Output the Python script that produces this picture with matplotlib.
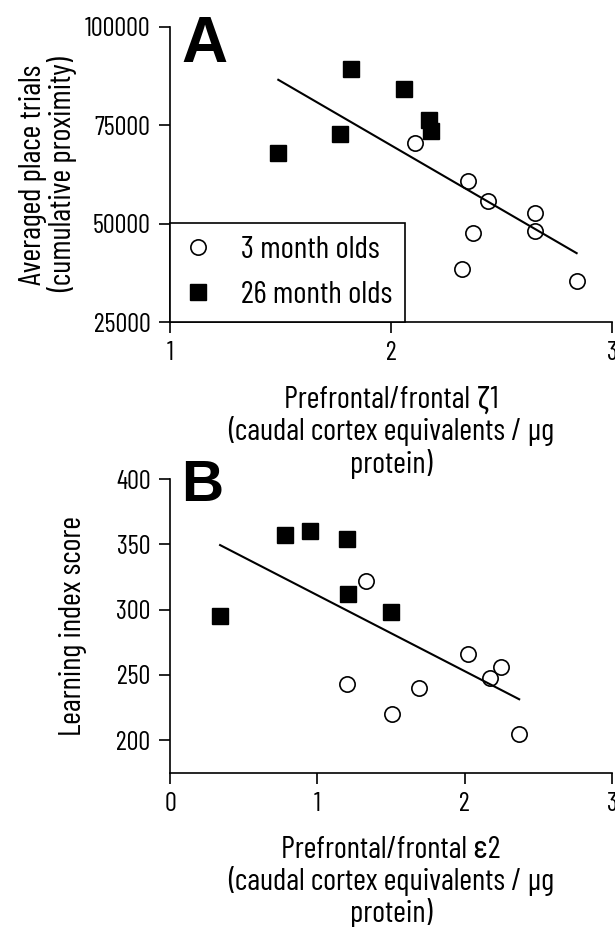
import matplotlib
matplotlib.use("Agg")
import matplotlib.pyplot as plt
import numpy as np

plt.rcParams['font.family'] = ['Barlow Condensed', 'Roboto Condensed', 'DejaVu Sans']

# Panel A: prefrontal/frontal zeta1 vs averaged place trials
a_young_x = [2.11, 2.35, 2.44, 2.37, 2.32, 2.65, 2.65, 2.84]
a_young_y = [70450, 60860, 55700, 47710, 38560, 52650, 48150, 35430]
a_old_x = [1.49, 1.77, 1.82, 2.06, 2.17, 2.18]
a_old_y = [67980, 72740, 89420, 84260, 76370, 73570]

# Panel B: prefrontal/frontal epsilon2 vs learning index score
b_young_x = [1.33, 1.20, 1.51, 1.69, 2.02, 2.17, 2.25, 2.37]
b_young_y = [322, 243, 220, 240, 266, 248, 256, 205]
b_old_x = [0.34, 0.78, 0.95, 1.20, 1.21, 1.50]
b_old_y = [295, 357, 360, 354, 312, 298]

labels = ["3 month olds", "26 month olds"]
xlab_a = "Prefrontal/frontal \u03b61\n(caudal cortex equivalents / \u00b5g\nprotein)"
xlab_b = "Prefrontal/frontal \u03b52\n(caudal cortex equivalents / \u00b5g\nprotein)"

W, H = 615, 927
fig = plt.figure(figsize=(W / 100, H / 100), dpi=100)
renderer = fig.canvas.get_renderer()


def fit_size(text, target_px, size=20):
    # font size that gives the text the pixel width seen in the reference
    t = fig.text(0, 0, text, fontsize=size)
    w = t.get_window_extent(renderer).width
    t.remove()
    return size * target_px / w


tick_fs = fit_size("100000", 66)
label_fs = fit_size("(caudal cortex equivalents / \u00b5g", 327)
leg_fs = fit_size("26 month olds", 151)

axA = fig.add_axes([170 / W, 1 - 322 / H, 442 / W, 295 / H])
axB = fig.add_axes([170 / W, 1 - 773 / H, 442 / W, 294 / H])


def draw(ax, yx, yy, ox, oy):
    h1, = ax.plot(yx, yy, 'o', ms=11, mfc='white', mec='black', mew=1.2,
                  label=labels[0], clip_on=False)
    h2, = ax.plot(ox, oy, 's', ms=11.5, mfc='black', mec='black',
                  label=labels[1], clip_on=False)
    # regression line through all animals
    allx = np.array(yx + ox)
    ally = np.array(yy + oy)
    k, b = np.polyfit(allx, ally, 1)
    xs = np.array([allx.min(), allx.max()])
    ax.plot(xs, k * xs + b, color='black', lw=1.5)
    for s in ['top', 'right']:
        ax.spines[s].set_visible(False)
    for s in ['left', 'bottom']:
        ax.spines[s].set_linewidth(1.2)
    ax.tick_params(direction='out', length=8, width=1.2, pad=6, labelsize=tick_fs)
    return h1, h2


h1, h2 = draw(axA, a_young_x, a_young_y, a_old_x, a_old_y)
axA.set_xlim(1, 3)
axA.set_ylim(25000, 100000)
axA.set_xticks([1, 2, 3])
axA.set_yticks([25000, 50000, 75000, 100000])
axA.set_ylabel("Averaged place trials\n(cumulative proximity)", fontsize=label_fs,
               linespacing=1.0)
axA.yaxis.label.set_va('center')
axA.yaxis.set_label_coords(-0.275, 0.5)
axA.set_xlabel(xlab_a, fontsize=label_fs, linespacing=1.1)
axA.xaxis.label.set_va('center')
axA.xaxis.set_label_coords(0.5, -0.373)
leg = axA.legend(handles=[h1, h2], loc='lower left', bbox_to_anchor=(0, 0),
                 borderaxespad=0, fontsize=leg_fs, fancybox=False, framealpha=1,
                 edgecolor='black', borderpad=0.4, handlelength=0.95,
                 handletextpad=0.9, labelspacing=0.55)
leg.get_frame().set_linewidth(1.2)

draw(axB, b_young_x, b_young_y, b_old_x, b_old_y)
axB.set_xlim(0, 3)
axB.set_ylim(175, 400)
axB.set_xticks([0, 1, 2, 3])
axB.set_yticks([200, 250, 300, 350, 400])
axB.set_ylabel("Learning index score", fontsize=label_fs)
axB.yaxis.label.set_va('center')
axB.yaxis.set_label_coords(-0.22, 0.5)
axB.set_xlabel(xlab_b, fontsize=label_fs, linespacing=1.1)
axB.xaxis.label.set_va('center')
axB.xaxis.set_label_coords(0.5, -0.371)

fig.text(181 / W, 1 - 62 / H, "A", fontsize=46, fontweight='bold',
         family=['Liberation Sans', 'DejaVu Sans'], va='baseline')
fig.text(181 / W, 1 - 501 / H, "B", fontsize=42, fontweight='bold',
         family=['Liberation Sans', 'DejaVu Sans'], va='baseline')

fig.savefig("out.png", dpi=100)
